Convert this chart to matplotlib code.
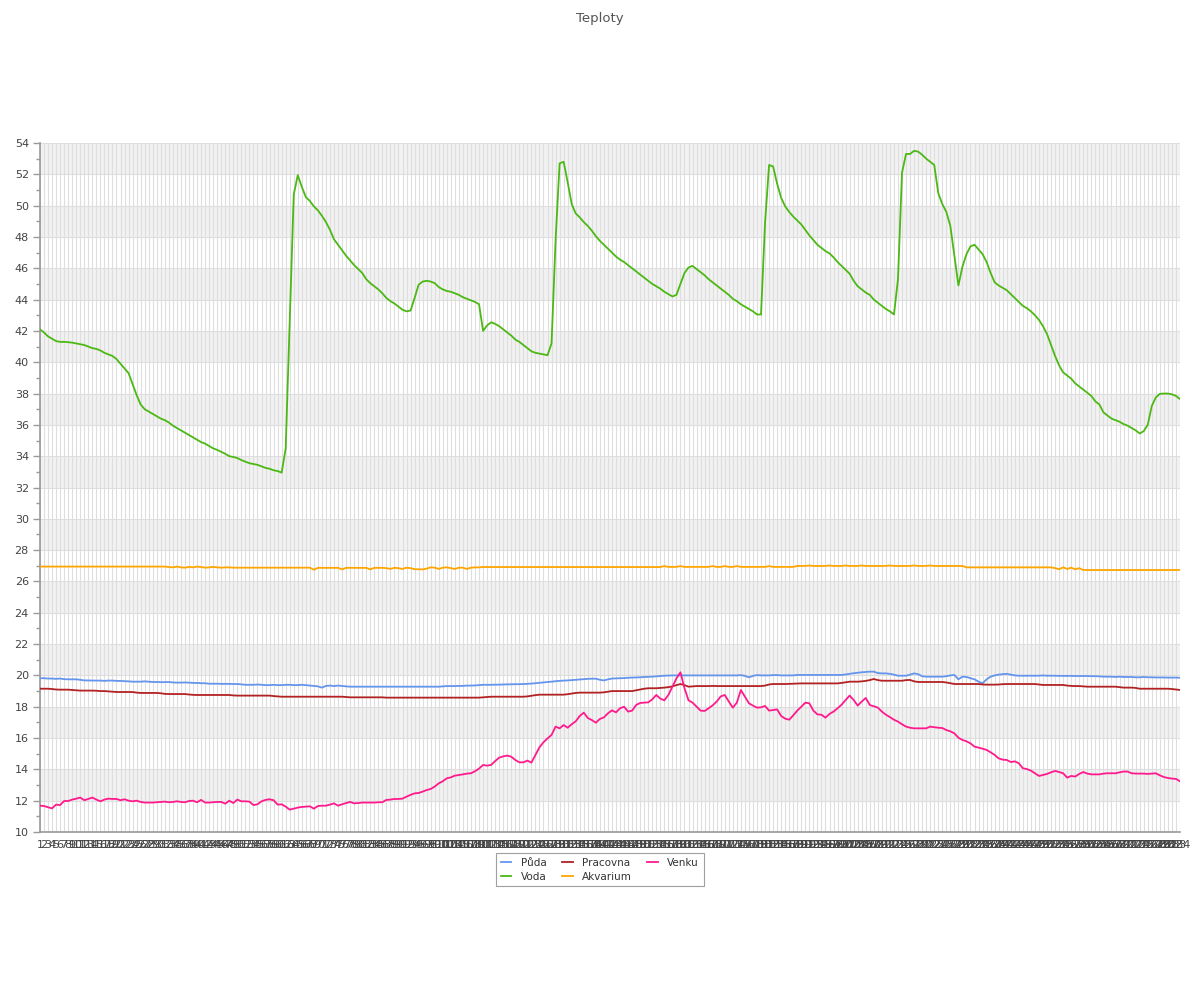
import matplotlib
matplotlib.use("Agg")
import matplotlib.pyplot as plt
from matplotlib.ticker import MultipleLocator
import numpy as np

# Measurement index 1..284 (category axis)
samples = list(range(1, 285))

puda = [
    19.82, 19.82, 19.8, 19.8, 19.78, 19.8, 19.76, 19.75, 19.75, 19.75,
    19.72, 19.68, 19.68, 19.67, 19.67, 19.67, 19.65, 19.67, 19.67, 19.65,
    19.65, 19.63, 19.62, 19.6, 19.6, 19.6, 19.62, 19.6, 19.58, 19.58,
    19.57, 19.57, 19.58, 19.55, 19.54, 19.54, 19.55, 19.54, 19.52, 19.52,
    19.5, 19.5, 19.47, 19.47, 19.47, 19.46, 19.46, 19.46, 19.45, 19.45,
    19.43, 19.4, 19.4, 19.4, 19.42, 19.4, 19.38, 19.38, 19.4, 19.38,
    19.38, 19.4, 19.4, 19.38, 19.38, 19.4, 19.38, 19.35, 19.33, 19.3,
    19.22, 19.33, 19.35, 19.32, 19.35, 19.33, 19.3, 19.28, 19.28, 19.28,
    19.28, 19.28, 19.28, 19.28, 19.28, 19.28, 19.28, 19.28, 19.28, 19.28,
    19.28, 19.28, 19.28, 19.28, 19.28, 19.28, 19.28, 19.28, 19.28, 19.28,
    19.3, 19.32, 19.32, 19.32, 19.33, 19.33, 19.35, 19.35, 19.36, 19.38,
    19.4, 19.4, 19.4, 19.41, 19.41, 19.42, 19.43, 19.43, 19.44, 19.44,
    19.45, 19.46, 19.48, 19.5, 19.53, 19.55, 19.58, 19.6, 19.63, 19.65,
    19.67, 19.68, 19.7, 19.72, 19.74, 19.76, 19.78, 19.79, 19.79, 19.72,
    19.68, 19.75, 19.8, 19.81, 19.82, 19.83, 19.85, 19.86, 19.87, 19.88,
    19.9, 19.91, 19.92, 19.94, 19.96, 19.98, 19.99, 20.0, 20.0, 20.0,
    20.0, 20.0, 20.0, 20.0, 20.0, 20.0, 20.0, 20.0, 20.0, 20.0,
    20.0, 20.0, 20.0, 20.0, 20.02, 19.97, 19.88, 19.97, 20.02, 20.0,
    20.0, 20.0, 20.02, 20.02, 20.0, 20.0, 20.0, 20.0, 20.03, 20.03,
    20.03, 20.03, 20.03, 20.03, 20.03, 20.03, 20.03, 20.03, 20.03, 20.03,
    20.06, 20.1, 20.14, 20.17, 20.2, 20.22, 20.24, 20.24, 20.15, 20.13,
    20.13, 20.1, 20.05, 19.98, 19.98, 19.98, 20.05, 20.13, 20.08, 19.95,
    19.92, 19.92, 19.92, 19.92, 19.92, 19.95, 20.0, 20.03, 19.75, 19.92,
    19.9, 19.82, 19.75, 19.6, 19.5, 19.75, 19.92, 20.0, 20.05, 20.08,
    20.1, 20.05, 20.0, 19.98, 19.98, 19.98, 19.98, 19.98, 19.98, 20.0,
    19.98, 19.98, 19.98, 19.97, 19.97, 19.97, 19.97, 19.96, 19.96, 19.96,
    19.96, 19.95, 19.95, 19.94, 19.92, 19.92, 19.92, 19.9, 19.92, 19.9,
    19.9, 19.9, 19.88, 19.88, 19.9, 19.88, 19.88, 19.87, 19.87, 19.87,
    19.86, 19.86, 19.86, 19.85,
]

voda = [
    42.1, 41.9, 41.65, 41.5, 41.35, 41.3, 41.3, 41.28, 41.25, 41.2,
    41.15, 41.1, 41.0, 40.9, 40.85, 40.75, 40.6, 40.5, 40.4, 40.2,
    39.9, 39.6, 39.3, 38.6, 37.9, 37.3, 37.0, 36.85, 36.7, 36.55,
    36.4, 36.3, 36.15, 35.95, 35.8, 35.65, 35.5, 35.35, 35.2, 35.05,
    34.9, 34.8, 34.65, 34.5, 34.4, 34.28, 34.15, 34.0, 33.95, 33.88,
    33.75, 33.65, 33.55, 33.5, 33.45, 33.35, 33.25, 33.2, 33.1, 33.05,
    32.95, 34.5, 42.6, 50.7, 51.95, 51.2, 50.55, 50.3, 49.95, 49.7,
    49.35, 48.95, 48.45, 47.85, 47.5, 47.15, 46.8, 46.5, 46.2, 45.95,
    45.7, 45.3, 45.05, 44.85, 44.65, 44.4, 44.1, 43.9, 43.75, 43.55,
    43.35, 43.25, 43.3, 44.1, 44.95, 45.15, 45.2, 45.15, 45.05, 44.8,
    44.65, 44.55, 44.5, 44.4, 44.3, 44.15, 44.05, 43.95, 43.85, 43.7,
    42.0, 42.35, 42.55, 42.45, 42.3, 42.1, 41.9, 41.7, 41.45, 41.3,
    41.1, 40.9, 40.7, 40.6, 40.55, 40.5, 40.45, 41.2, 47.8, 52.7,
    52.8, 51.5, 50.1, 49.5, 49.25, 48.95, 48.7, 48.4, 48.05, 47.75,
    47.5, 47.25, 47.0, 46.75, 46.55, 46.4, 46.2, 46.0, 45.8, 45.6,
    45.4, 45.2, 45.0, 44.85, 44.7, 44.5, 44.35, 44.2, 44.3, 45.0,
    45.7, 46.05, 46.15, 45.95, 45.75, 45.55, 45.3, 45.1, 44.9, 44.7,
    44.5, 44.3, 44.05, 43.9, 43.7, 43.55, 43.4, 43.25, 43.05, 43.05,
    48.9, 52.6, 52.5, 51.4, 50.5, 49.95, 49.6, 49.3, 49.05, 48.8,
    48.45, 48.1, 47.8, 47.5, 47.3, 47.1, 46.95, 46.7, 46.4, 46.15,
    45.9, 45.65, 45.2, 44.85, 44.65, 44.45, 44.3, 44.0, 43.8, 43.6,
    43.4, 43.25, 43.05, 45.3, 52.1, 53.3, 53.3, 53.5, 53.45, 53.25,
    53.0, 52.8, 52.6, 50.8, 50.1, 49.6, 48.7, 46.8, 44.9, 46.1,
    46.9, 47.4, 47.5, 47.2, 46.9, 46.4, 45.7, 45.1, 44.9, 44.75,
    44.6, 44.35, 44.1, 43.85, 43.6, 43.45, 43.25, 43.0, 42.7, 42.3,
    41.8, 41.1, 40.4, 39.8, 39.35, 39.15, 38.95, 38.65, 38.45, 38.25,
    38.05, 37.85, 37.5, 37.3, 36.8, 36.6, 36.4, 36.3, 36.2, 36.05,
    35.95, 35.8, 35.65, 35.45, 35.6, 36.0, 37.2, 37.75, 37.98, 38.0,
    38.0, 37.95, 37.85, 37.65,
]

pracovna = [
    19.15, 19.15, 19.15, 19.13, 19.1, 19.09, 19.09, 19.09, 19.07, 19.05,
    19.03, 19.03, 19.03, 19.03, 19.02, 19.0, 19.0, 18.98, 18.96, 18.94,
    18.94, 18.94, 18.94, 18.94, 18.9, 18.88, 18.88, 18.88, 18.88, 18.88,
    18.86, 18.82, 18.81, 18.81, 18.81, 18.81, 18.81, 18.78, 18.76, 18.75,
    18.75, 18.75, 18.75, 18.75, 18.75, 18.75, 18.75, 18.75, 18.72, 18.71,
    18.71, 18.71, 18.71, 18.71, 18.71, 18.71, 18.71, 18.71, 18.68, 18.66,
    18.64, 18.64, 18.64, 18.64, 18.64, 18.64, 18.64, 18.64, 18.64, 18.64,
    18.64, 18.64, 18.64, 18.64, 18.64, 18.64, 18.62, 18.6, 18.6, 18.6,
    18.6, 18.6, 18.6, 18.6, 18.6, 18.6, 18.58, 18.58, 18.58, 18.58,
    18.58, 18.58, 18.58, 18.58, 18.58, 18.58, 18.58, 18.58, 18.58, 18.58,
    18.58, 18.58, 18.58, 18.58, 18.58, 18.58, 18.58, 18.58, 18.58, 18.58,
    18.6, 18.62, 18.64, 18.64, 18.64, 18.64, 18.64, 18.64, 18.64, 18.64,
    18.64, 18.66, 18.7, 18.74, 18.77, 18.77, 18.77, 18.77, 18.77, 18.77,
    18.77, 18.8, 18.84, 18.88, 18.9, 18.9, 18.9, 18.9, 18.9, 18.9,
    18.92, 18.96, 19.0, 19.0, 19.0, 19.0, 19.0, 19.0, 19.05, 19.1,
    19.15, 19.18, 19.18, 19.18, 19.2, 19.22, 19.25, 19.3, 19.38, 19.45,
    19.38, 19.28, 19.3, 19.32, 19.32, 19.32, 19.32, 19.33, 19.32, 19.32,
    19.32, 19.32, 19.32, 19.32, 19.32, 19.32, 19.32, 19.32, 19.32, 19.32,
    19.35, 19.42, 19.45, 19.45, 19.45, 19.45, 19.46, 19.47, 19.48, 19.49,
    19.49, 19.49, 19.49, 19.49, 19.49, 19.49, 19.49, 19.49, 19.49, 19.52,
    19.56, 19.6, 19.6, 19.6, 19.62, 19.65, 19.7, 19.77, 19.7, 19.66,
    19.66, 19.66, 19.66, 19.66, 19.66, 19.7, 19.71, 19.62, 19.58, 19.58,
    19.58, 19.58, 19.58, 19.58, 19.58, 19.55, 19.5, 19.45, 19.45, 19.45,
    19.45, 19.45, 19.45, 19.45, 19.42, 19.41, 19.41, 19.41, 19.42, 19.44,
    19.45, 19.45, 19.45, 19.45, 19.45, 19.45, 19.45, 19.45, 19.42, 19.39,
    19.39, 19.39, 19.39, 19.39, 19.39, 19.35, 19.33, 19.32, 19.32, 19.3,
    19.28, 19.28, 19.28, 19.28, 19.28, 19.28, 19.28, 19.28, 19.25, 19.22,
    19.22, 19.22, 19.2, 19.15, 19.15, 19.15, 19.15, 19.15, 19.15, 19.15,
    19.15, 19.13, 19.1, 19.07,
]

akvarium = [
    26.95, 26.95, 26.95, 26.95, 26.95, 26.95, 26.95, 26.95, 26.95, 26.95,
    26.95, 26.95, 26.95, 26.95, 26.95, 26.95, 26.95, 26.95, 26.95, 26.95,
    26.95, 26.95, 26.95, 26.95, 26.95, 26.95, 26.95, 26.95, 26.95, 26.95,
    26.95, 26.95, 26.92, 26.9, 26.95, 26.9, 26.88, 26.93, 26.9, 26.95,
    26.92, 26.88, 26.9, 26.93, 26.9, 26.88, 26.9, 26.9, 26.88, 26.88,
    26.88, 26.88, 26.88, 26.88, 26.88, 26.88, 26.88, 26.88, 26.88, 26.88,
    26.88, 26.88, 26.88, 26.88, 26.88, 26.88, 26.88, 26.88, 26.75, 26.87,
    26.87, 26.87, 26.87, 26.87, 26.87, 26.77, 26.87, 26.87, 26.87, 26.87,
    26.87, 26.87, 26.77, 26.87, 26.87, 26.87, 26.85, 26.8, 26.87, 26.85,
    26.8, 26.88, 26.85, 26.78, 26.78, 26.77, 26.82, 26.9, 26.88, 26.8,
    26.88, 26.9, 26.85, 26.8, 26.88, 26.88, 26.8, 26.88, 26.9, 26.9,
    26.92, 26.92, 26.92, 26.92, 26.92, 26.92, 26.92, 26.92, 26.92, 26.92,
    26.92, 26.92, 26.92, 26.92, 26.92, 26.92, 26.92, 26.92, 26.92, 26.92,
    26.92, 26.92, 26.92, 26.92, 26.92, 26.92, 26.92, 26.92, 26.92, 26.92,
    26.92, 26.92, 26.92, 26.92, 26.92, 26.92, 26.92, 26.92, 26.92, 26.92,
    26.92, 26.92, 26.92, 26.92, 26.92, 26.98, 26.93, 26.93, 26.93, 26.98,
    26.93, 26.93, 26.93, 26.93, 26.93, 26.93, 26.93, 26.98, 26.93, 26.93,
    26.98, 26.93, 26.93, 26.98, 26.93, 26.93, 26.93, 26.93, 26.93, 26.93,
    26.93, 26.98, 26.93, 26.93, 26.93, 26.93, 26.93, 26.93, 26.99, 26.99,
    26.99, 27.02, 26.99, 26.99, 26.99, 26.99, 27.02, 26.99, 26.99, 26.99,
    27.02, 26.99, 26.99, 26.99, 27.02, 26.99, 26.99, 26.99, 26.99, 26.99,
    26.99, 27.02, 26.99, 26.99, 26.99, 26.99, 26.99, 27.02, 26.99, 26.99,
    26.99, 27.02, 26.99, 26.99, 26.99, 26.99, 26.99, 26.99, 26.99, 26.99,
    26.9, 26.9, 26.9, 26.9, 26.9, 26.9, 26.9, 26.9, 26.9, 26.9,
    26.9, 26.9, 26.9, 26.9, 26.9, 26.9, 26.9, 26.9, 26.9, 26.9,
    26.9, 26.9, 26.85, 26.78, 26.9, 26.8, 26.88, 26.78, 26.85, 26.73,
    26.73, 26.73, 26.73, 26.73, 26.73, 26.73, 26.73, 26.73, 26.73, 26.73,
    26.73, 26.73, 26.73, 26.73, 26.73, 26.73, 26.73, 26.73, 26.73, 26.73,
    26.73, 26.73, 26.73, 26.73,
]

venku = [
    11.68, 11.66, 11.58, 11.51, 11.75, 11.72, 11.98, 11.98, 12.07, 12.13,
    12.2, 12.03, 12.11, 12.2, 12.07, 11.96, 12.07, 12.13, 12.11, 12.11,
    12.03, 12.09, 12.0, 11.96, 12.0, 11.92, 11.88, 11.88, 11.88, 11.9,
    11.92, 11.94, 11.9, 11.92, 11.96, 11.92, 11.9, 11.98, 12.0, 11.9,
    12.05, 11.88, 11.88, 11.9, 11.92, 11.92, 11.81, 12.0, 11.85, 12.07,
    11.96, 11.96, 11.94, 11.72, 11.77, 11.96, 12.05, 12.09, 12.03, 11.75,
    11.77, 11.62, 11.43, 11.49, 11.56, 11.6, 11.62, 11.64, 11.49, 11.66,
    11.68, 11.68, 11.75, 11.83, 11.68, 11.77, 11.85, 11.92, 11.83, 11.85,
    11.88, 11.88, 11.88, 11.88, 11.9, 11.9, 12.05, 12.07, 12.11, 12.11,
    12.13, 12.26, 12.37, 12.47, 12.49, 12.58, 12.68, 12.75, 12.9, 13.11,
    13.24, 13.43, 13.49, 13.6, 13.64, 13.68, 13.73, 13.75, 13.88, 14.05,
    14.28, 14.24, 14.28, 14.53, 14.75, 14.83, 14.88, 14.81, 14.6, 14.45,
    14.45, 14.56, 14.43, 14.92, 15.41, 15.73, 15.98, 16.2, 16.73, 16.62,
    16.83, 16.66, 16.88, 17.07, 17.41, 17.62, 17.28, 17.15, 16.98, 17.22,
    17.32, 17.58, 17.77, 17.64, 17.9, 18.0, 17.69, 17.75, 18.11, 18.24,
    18.26, 18.28, 18.47, 18.75, 18.52, 18.41, 18.75, 19.28, 19.81, 20.2,
    19.18, 18.41, 18.26, 18.0, 17.75, 17.73, 17.9, 18.09, 18.33, 18.66,
    18.75, 18.33, 17.94, 18.26, 19.07, 18.64, 18.22, 18.07, 17.94, 17.96,
    18.05, 17.75, 17.79, 17.83, 17.41, 17.24, 17.17, 17.45, 17.75, 18.0,
    18.26, 18.22, 17.75, 17.51, 17.49, 17.3, 17.54, 17.69, 17.9, 18.13,
    18.43, 18.71, 18.43, 18.07, 18.33, 18.56, 18.11, 18.03, 17.94, 17.69,
    17.49, 17.34, 17.17, 17.05, 16.88, 16.73, 16.66, 16.62, 16.62, 16.62,
    16.62, 16.73, 16.69, 16.66, 16.64, 16.51, 16.43, 16.3, 16.02, 15.88,
    15.79, 15.66, 15.45, 15.39, 15.32, 15.24, 15.09, 14.92, 14.7, 14.62,
    14.6, 14.47, 14.51, 14.39, 14.07, 14.02, 13.92, 13.75, 13.58, 13.64,
    13.71, 13.81, 13.9, 13.83, 13.75, 13.47, 13.58, 13.54, 13.71, 13.83,
    13.73, 13.68, 13.68, 13.68, 13.73, 13.75, 13.75, 13.75, 13.81, 13.86,
    13.86, 13.75, 13.73, 13.73, 13.73, 13.71, 13.73, 13.75, 13.62, 13.51,
    13.45, 13.41, 13.39, 13.24,
]

series = [
    ("Půda", puda, "#6495ed"),
    ("Voda", voda, "#4cb814"),
    ("Pracovna", pracovna, "#b22222"),
    ("Akvarium", akvarium, "#ffa500"),
    ("Venku", venku, "#ff1a8c"),
]


def main():
    fig = plt.figure(figsize=(12, 10), dpi=100)
    ax = fig.add_axes([0.0333, 0.168, 0.95, 0.689])

    ymin, ymax = 10, 54
    ax.set_xlim(samples[0], samples[-1])
    ax.set_ylim(ymin, ymax)

    # alternating background bands
    for lo in range(12, ymax, 4):
        ax.axhspan(lo, lo + 2, color="#f2f2f2", zorder=0, lw=0)

    # grid
    ax.set_xticks(samples)
    ax.set_xticklabels([str(s) for s in samples], fontsize=8, color="#444")
    ax.tick_params(axis="x", length=0, pad=6)
    ax.yaxis.set_major_locator(MultipleLocator(2))
    ax.yaxis.set_minor_locator(MultipleLocator(1))
    ax.tick_params(axis="y", which="major", length=5, width=1, color="#999",
                   labelsize=8, labelcolor="#444", pad=3)
    ax.tick_params(axis="y", which="minor", length=3, width=1, color="#999")
    ax.grid(True, which="major", axis="both", color="#dedede", lw=0.8, zorder=1)
    ax.set_axisbelow(True)

    for side in ("top", "right"):
        ax.spines[side].set_visible(False)
    for side in ("left", "bottom"):
        ax.spines[side].set_color("#999")
        ax.spines[side].set_linewidth(1.2)

    handles = []
    for name, vals, col in series:
        h, = ax.plot(samples, vals, color=col, lw=1.3, label=name, zorder=3)
        handles.append(h)

    fig.text(0.5, 0.988, "Teploty", ha="center", va="top",
             fontsize=9.5, color="#555")

    leg = fig.legend(handles=handles, loc="upper center",
                     bbox_to_anchor=(0.5, 0.152), ncol=3, fontsize=7.5,
                     frameon=True, fancybox=False, handlelength=1.0,
                     columnspacing=1.5, labelspacing=0.35, borderpad=0.45,
                     handletextpad=0.9)
    leg.get_frame().set_edgecolor("#888")
    leg.get_frame().set_linewidth(0.8)
    for t in leg.get_texts():
        t.set_color("#333")

    plt.savefig("out.png", dpi=100)


if __name__ == "__main__":
    main()
